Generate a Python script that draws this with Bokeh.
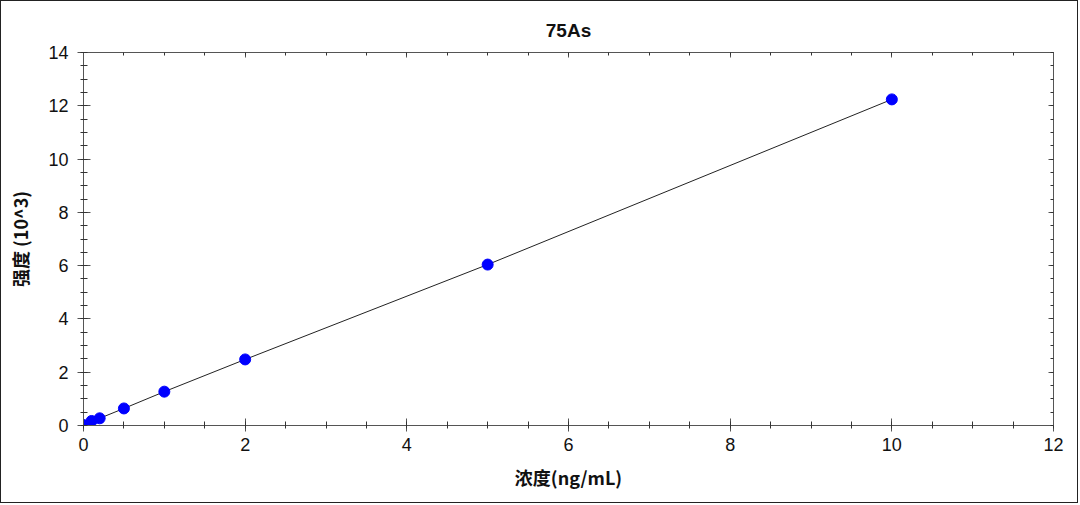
from bokeh.plotting import figure
from bokeh.models import Range1d, LinearAxis, FixedTicker, CustomJSTickFormatter
from bokeh.embed import file_html
from bokeh.resources import INLINE

conc = [0.0, 0.1, 0.2, 0.5, 1.0, 2.0, 5.0, 10.0]
intensity = [0.02, 0.17, 0.27, 0.64, 1.27, 2.48, 6.04, 12.24]
x_ticks = [0, 2, 4, 6, 8, 10, 12]
y_ticks = [0, 2, 4, 6, 8, 10, 12, 14]
minor = [t / 2 for t in range(0, 29)]

p = figure(width=1078, height=503, output_backend="svg", toolbar_location=None,
           x_range=Range1d(0, 12), y_range=Range1d(0, 14),
           min_border_left=82, min_border_right=26, min_border_top=51, min_border_bottom=79,
           title="75As")
p.styles = {"border": "1px solid #222"}
p.title.align = "center"
p.title.offset = -29
p.title.text_font = "Liberation Sans"
p.title.text_font_size = "19px"
p.title.text_font_style = "bold"
p.title.text_color = "#111"
p.title.standoff = 24
p.grid.visible = False
p.outline_line_color = None

for ax, ticks in ((p.xaxis[0], x_ticks), (p.yaxis[0], y_ticks)):
    ax.ticker = FixedTicker(ticks=ticks, minor_ticks=minor)
    ax.major_tick_in = 7
    ax.major_tick_out = 6
    ax.minor_tick_in = 4
    ax.minor_tick_out = 3
    ax.axis_line_color = "#555"
    ax.major_tick_line_color = "#555"
    ax.minor_tick_line_color = "#333"
    ax.major_label_text_font = "Liberation Sans"
    ax.major_label_text_font_size = "18px"
    ax.major_label_text_color = "#111"
    ax.axis_label_text_font = "Noto Sans CJK SC"
    ax.axis_label_text_font_size = "18px"
    ax.axis_label_text_font_style = "bold"
    ax.axis_label_text_color = "#111"

p.xaxis[0].major_label_standoff = 6
p.yaxis[0].major_label_standoff = 9
p.xaxis[0].axis_label = "浓度(ng/mL)"
p.yaxis[0].axis_label = "强度 (10^3)"
p.xaxis[0].axis_label_standoff = 10
p.yaxis[0].axis_label_standoff = 12

for loc, ticks in (("above", x_ticks), ("right", y_ticks)):
    ax = LinearAxis(ticker=FixedTicker(ticks=ticks, minor_ticks=minor),
                    formatter=CustomJSTickFormatter(code="return ''"))
    ax.major_tick_in = 5
    ax.major_tick_out = 0
    ax.minor_tick_in = 3
    ax.minor_tick_out = 0
    ax.axis_line_color = "#555"
    ax.major_tick_line_color = "#555"
    ax.minor_tick_line_color = "#333"
    ax.major_label_standoff = 0
    p.add_layout(ax, loc)

p.line(conc, intensity, line_color="#222", line_width=1)
p.scatter(conc, intensity, size=11, fill_color="#0000FF", line_color="#0000FF")

open("out.html", "w").write(file_html(p, INLINE))
